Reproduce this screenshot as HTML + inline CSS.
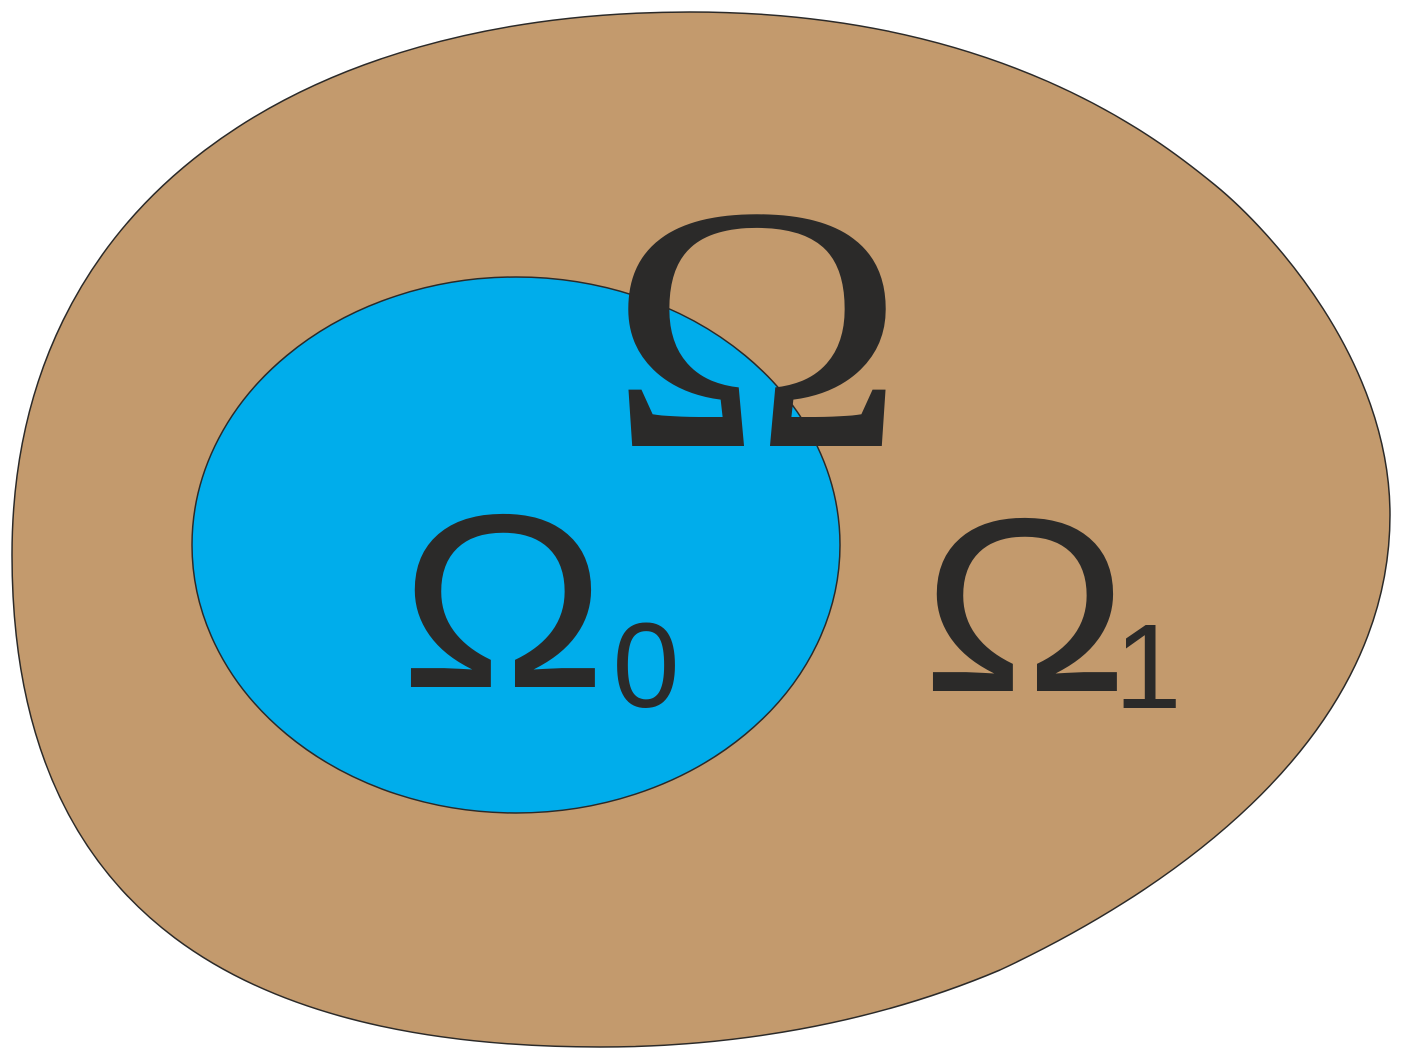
<!DOCTYPE html>
<html><head><meta charset="utf-8"><style>
html,body{margin:0;padding:0;background:#fff;width:1401px;height:1058px;overflow:hidden}
</style></head><body>
<svg width="1401" height="1058" viewBox="0 0 1401 1058" xmlns="http://www.w3.org/2000/svg">
<path d="M 690,12 C 1000,12 1160,140 1215,185 C 1270,230 1390,360 1390,515 C 1390,750 1150,900 1000,970 C 870,1025 730,1047 600,1047 C 250,1047 12,920 12,555 C 12,200 300,12 690,12 Z" fill="#c39a6d" stroke="#2b2a29" stroke-width="1.5"/>
<ellipse cx="516" cy="545" rx="324" ry="268" fill="#00adeb" stroke="#2b2a29" stroke-width="1.5"/>
<g fill="#2b2a29">
<text transform="translate(757,446) scale(1.15,1)" x="0" y="0" text-anchor="middle" font-family="Liberation Serif, serif" font-size="350">Ω</text>
<text transform="translate(503,687) scale(1.12,1)" x="0" y="0" text-anchor="middle" font-family="Liberation Sans, sans-serif" font-size="248">Ω</text>
<text x="646" y="707" text-anchor="middle" font-family="Liberation Sans, sans-serif" font-size="121">0</text>
<text transform="translate(1025,691) scale(1.12,1)" x="0" y="0" text-anchor="middle" font-family="Liberation Sans, sans-serif" font-size="248">Ω</text>
<text x="1148" y="708" text-anchor="middle" font-family="Liberation Sans, sans-serif" font-size="121">1</text>
</g>
</svg>
</body></html>
